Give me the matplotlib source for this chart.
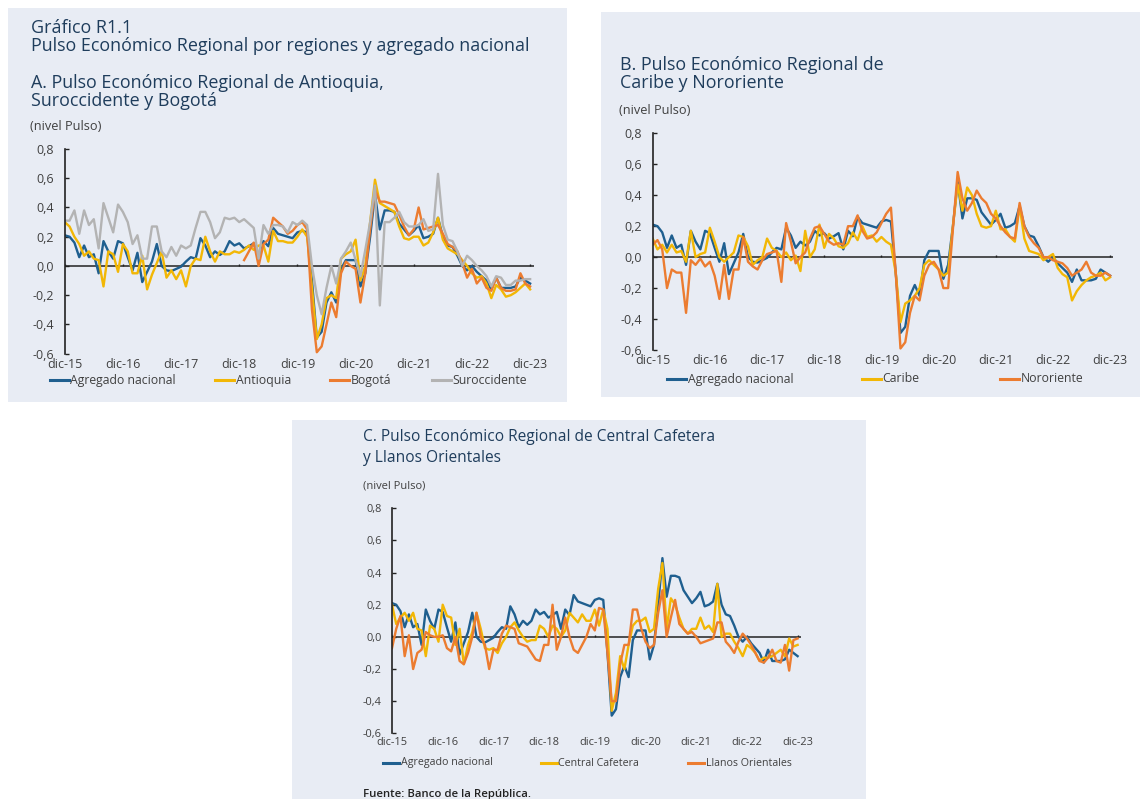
import numpy as np
import matplotlib.pyplot as plt
from matplotlib.patches import Rectangle
from matplotlib.lines import Line2D

plt.rcParams['font.family'] = ['Open Sans', 'DejaVu Sans']

W, H = 1142, 799

# --- datos (nivel Pulso, mensual dic-15 ... dic-23) ---
meses = np.arange(97)
ticks_x = np.arange(0, 97, 12)
etiquetas_x = ['dic-15', 'dic-16', 'dic-17', 'dic-18', 'dic-19',
               'dic-20', 'dic-21', 'dic-22', 'dic-23']
ticks_y = [-0.6, -0.4, -0.2, 0.0, 0.2, 0.4, 0.6, 0.8]

agregado = [0.21, 0.20, 0.16, 0.06, 0.14, 0.06, 0.08, -0.05, 0.17, 0.10,
            0.05, 0.17, 0.155, 0.06, -0.03, 0.09, -0.11, -0.04, 0.03, 0.15,
            0.00, -0.03, -0.035, -0.02, -0.005, 0.03, 0.06, 0.05, 0.19, 0.14,
            0.06, 0.10, 0.075, 0.10, 0.17, 0.14, 0.155, 0.12, 0.135, 0.155,
            0.05, 0.17, 0.135, 0.26, 0.22, 0.21, 0.20, 0.19,
            0.23, 0.24, 0.23, -0.10, -0.49, -0.45, -0.25, -0.18, -0.25, -0.02,
            0.04, 0.04, 0.04, -0.14, -0.05, 0.20, 0.49,
            0.25, 0.38, 0.38, 0.37, 0.29, 0.25, 0.21, 0.24, 0.28, 0.19,
            0.20, 0.22, 0.33, 0.20, 0.14, 0.13, 0.07, 0.00, -0.03, 0.00,
            -0.04, -0.07, -0.10, -0.16, -0.08, -0.15, -0.15, -0.15, -0.14, -0.08,
            -0.10, -0.12]

antioquia = [0.30, 0.27, 0.20, 0.15, 0.07, 0.10, 0.05, 0.04, -0.14, 0.10,
             0.08, -0.04, 0.15, 0.10, -0.05, -0.05, 0.07, -0.16, -0.06, 0.02,
             0.10, -0.08, -0.03, -0.09, -0.03, -0.14, 0.00, 0.05, 0.04, 0.20,
             0.10, 0.03, 0.10, 0.08, 0.08, 0.10, 0.09, 0.11, 0.14, 0.11,
             0.14, 0.14, 0.03, 0.24, 0.17, 0.17, 0.16, 0.16,
             0.20, 0.25, 0.20, -0.15, -0.50, -0.40, -0.22, -0.20, -0.22, 0.05,
             0.08, 0.10, 0.18, -0.10, 0.00, 0.30, 0.59, 0.43, 0.41, 0.39,
             0.37, 0.27, 0.19, 0.18, 0.20, 0.20, 0.14, 0.16, 0.23, 0.33,
             0.18, 0.12, 0.10, 0.08, 0.04, 0.00, -0.05, -0.08, -0.07, -0.12,
             -0.22, -0.13, -0.16, -0.21, -0.20, -0.18, -0.15, -0.12, -0.16]

bogota = [np.nan] * 37 + [
    0.04, 0.10, 0.16, 0.00, 0.15, 0.18, 0.33, 0.30, 0.27, 0.22,
    0.24, 0.28, 0.30, 0.25, -0.30, -0.59, -0.55, -0.40, -0.25, -0.35,
    -0.05, 0.03, 0.00, -0.02, -0.25, -0.05, 0.25, 0.52, 0.44, 0.44,
    0.43, 0.42, 0.35, 0.27, 0.21, 0.25, 0.40, 0.25, 0.26, 0.27,
    0.28, 0.22, 0.15, 0.13, 0.10, 0.02, -0.08, -0.02, -0.12, -0.08,
    -0.15, -0.17, -0.08, -0.15, -0.17, -0.17, -0.16, -0.05, -0.12, -0.14]

suroccidente = [0.31, 0.31, 0.38, 0.22, 0.38, 0.28, 0.32, 0.12, 0.43, 0.33,
                0.23, 0.42, 0.37, 0.30, 0.15, 0.21, 0.05, 0.05, 0.27, 0.27,
                0.10, 0.06, 0.13, 0.07, 0.14, 0.12, 0.14, 0.26, 0.37, 0.37,
                0.30, 0.19, 0.23, 0.33, 0.32, 0.33, 0.30, 0.32, 0.29, 0.26,
                0.05, 0.28, 0.22, 0.28, 0.28, 0.27, 0.23, 0.30,
                0.28, 0.31, 0.28, 0.00, -0.20, -0.33, -0.15, 0.00, -0.12, 0.05,
                0.10, 0.16, 0.04, -0.07, 0.11, 0.30, 0.55, -0.27, 0.30, 0.30,
                0.33, 0.37, 0.30, 0.27, 0.27, 0.28, 0.32, 0.24, 0.25, 0.63,
                0.28, 0.18, 0.17, 0.10, 0.00, 0.07, 0.04, 0.00, -0.03, -0.07,
                -0.14, -0.07, -0.08, -0.13, -0.13, -0.10, -0.10, -0.09, -0.09]

caribe = [0.12, 0.05, 0.08, 0.03, 0.08, 0.03, 0.04, -0.03, 0.17, 0.00,
          0.02, 0.03, 0.19, 0.10, 0.00, -0.03, 0.00, 0.03, 0.14, 0.13,
          0.07, -0.05, -0.02, 0.00, 0.12, 0.06, 0.04, 0.00, 0.03, -0.02,
          0.01, -0.09, 0.17, 0.00, 0.05, 0.21, 0.06, 0.15, 0.12, 0.07,
          0.06, 0.09, 0.16,
          0.11, 0.20, 0.13, 0.14, 0.10, 0.13, 0.10, 0.08, -0.10, -0.42,
          -0.30, -0.28, -0.25, -0.20, -0.05, -0.02, -0.05, -0.08, -0.12, -0.10,
          0.20, 0.47, 0.30, 0.45, 0.40, 0.28, 0.20, 0.19, 0.20, 0.30,
          0.18, 0.18, 0.13, 0.10, 0.33, 0.12, 0.04, 0.03, 0.02, -0.02,
          0.00, 0.02, -0.07, -0.11, -0.13, -0.28, -0.22, -0.18, -0.15, -0.13,
          -0.12, -0.10, -0.15, -0.13]

nororiente = [0.08, 0.11, 0.05, -0.20, -0.08, -0.10, -0.10, -0.36, -0.02, -0.05,
              -0.01, -0.06, -0.03, -0.12, -0.27, -0.05, -0.27, -0.08, -0.08, 0.13,
              -0.03, -0.06, -0.08, -0.02, 0.02, 0.03, 0.04, -0.16, 0.22, 0.10,
              -0.04, 0.00, 0.03, 0.12, 0.19, 0.20, 0.15, 0.10, 0.08, 0.09,
              0.08, 0.20, 0.20,
              0.27, 0.17, 0.12, 0.13, 0.16, 0.22, 0.28, 0.32, -0.10, -0.59,
              -0.55, -0.36, -0.25, -0.28, -0.12, -0.05, -0.03, -0.08, -0.20, -0.20,
              0.18, 0.55, 0.38, 0.30, 0.35, 0.43, 0.38, 0.35, 0.28, 0.25,
              0.20, 0.16, 0.13, 0.12, 0.35, 0.20, 0.13, 0.09, 0.06, 0.00,
              0.00, -0.02, -0.03, -0.04, -0.07, -0.12, -0.10, -0.08, -0.03, -0.10,
              -0.12, -0.12, -0.10, -0.12]

cafetera = [0.20, 0.08, 0.12, 0.15, 0.10, 0.15, 0.05, 0.04, -0.12, 0.07,
            0.05, -0.03, 0.20, 0.13, 0.12, -0.05, 0.05, -0.17, -0.05, 0.03,
            0.15, 0.05, -0.07, -0.08, -0.07, -0.10, -0.04, 0.00, 0.06, 0.09,
            0.04, 0.00, -0.03, -0.02, -0.02, 0.07, 0.05, 0.00, 0.07, 0.05,
            0.00, 0.04,
            0.15, 0.12, 0.09, 0.14, 0.10, 0.10, 0.17, 0.07, 0.17, 0.05,
            -0.46, -0.35, -0.12, -0.20, -0.05, 0.07, 0.10, 0.10, 0.12, 0.03,
            0.05, 0.30, 0.46, 0.05, 0.24, 0.20, 0.12, 0.05, 0.02, 0.05,
            0.05, 0.12, 0.05, 0.07, 0.03, 0.33, 0.00, 0.02, 0.02, -0.03,
            -0.07, -0.12, -0.05, -0.07, -0.10, -0.15, -0.13, -0.13, -0.12, -0.10,
            -0.08, -0.12, -0.01, -0.06, -0.05]

llanos = [-0.07, 0.05, 0.13, -0.12, 0.01, -0.20, -0.10, -0.08, 0.03, 0.01,
          0.00, 0.00, 0.01, -0.07, -0.09, 0.00, -0.15, -0.17, -0.10, 0.00,
          0.15, 0.00, -0.05, -0.20, -0.08, -0.08, 0.02, 0.07, 0.06, 0.05,
          -0.04, -0.05, -0.06, -0.10, -0.14, -0.15, -0.05, -0.05, 0.20, -0.08,
          0.00, 0.12,
          0.00, -0.08, -0.10, -0.05, 0.00, 0.08, 0.04, 0.18, 0.17, -0.10,
          -0.40, -0.40, -0.17, -0.05, -0.05, 0.17, 0.17, 0.05, -0.03, -0.07,
          -0.05, 0.15, 0.29, 0.00, 0.12, 0.23, 0.08, 0.05, 0.02, 0.03,
          0.00, -0.04, -0.03, -0.02, -0.01, 0.09, 0.09, -0.03, -0.06, -0.10,
          -0.03, 0.02, -0.01, -0.05, -0.10, -0.15, -0.16, -0.13, -0.08, -0.15,
          -0.16, -0.05, -0.21, -0.02, -0.01]

# colores
AZUL = '#1f5f8f'
AMARILLO = '#f2b705'
NARANJA = '#ec7c30'
GRIS = '#b3b3b3'
FONDO = '#e8ecf4'
TITULO = '#1f3d5c'
TEXTO = '#404040'

fig = plt.figure(figsize=(W / 100, H / 100), dpi=100)


def caja(x0, y0, x1, y1):
    # pixeles (origen arriba a la izquierda) -> fraccion de figura
    return [x0 / W, 1 - y1 / H, (x1 - x0) / W, (y1 - y0) / H]


def texto(x, y, s, **kw):
    fig.text(x / W, 1 - y / H, s, **kw)


def fondo(x0, y0, x1, y1):
    r = caja(x0, y0, x1, y1)
    fig.add_artist(Rectangle((r[0], r[1]), r[2], r[3], transform=fig.transFigure,
                             facecolor=FONDO, edgecolor='none', zorder=-5))


def item_leyenda(x, y, color, label, largo=19, fs=8.8):
    fig.add_artist(Line2D([x / W, (x + largo) / W], [1 - y / H, 1 - y / H],
                          color=color, lw=2.2, transform=fig.transFigure))
    texto(x + largo + 1.5, y, label, fontsize=fs, color=TEXTO, va='center')


def panel(rect, xmax, fs=9.0):
    ax = fig.add_axes(caja(*rect))
    ax.set_facecolor('none')
    ax.set_xlim(0, xmax)
    ax.set_ylim(-0.6, 0.8)
    for s in ['top', 'right', 'bottom']:
        ax.spines[s].set_visible(False)
    ax.spines['left'].set_linewidth(1.2)
    ax.spines['left'].set_color('#222222')
    ax.axhline(0, color='#222222', lw=1.1, zorder=1)
    ax.vlines(ticks_x, 0, 0.012, color='#222222', lw=1, zorder=1)
    ax.set_xticks(ticks_x)
    ax.set_xticklabels(etiquetas_x)
    ax.set_yticks(ticks_y)
    ax.set_yticklabels([f'{v:.1f}'.replace('.', ',') for v in ticks_y])
    ax.tick_params(axis='x', length=0, pad=3, labelsize=fs, labelcolor=TEXTO)
    ax.tick_params(axis='y', direction='in', length=3, width=1, pad=7.5,
                   labelsize=fs, labelcolor=TEXTO, color='#222222')
    return ax


lw = 1.7

# fondos de los tres paneles
fondo(8, 8, 567, 402)
fondo(601, 12, 1140, 397)
fondo(292, 420, 866, 799)

# A. Antioquia, Suroccidente y Bogota
ax = panel((64.7, 149, 534, 353.7), 96.8)
ax.plot(meses, agregado, color=AZUL, lw=lw)
ax.plot(meses, antioquia, color=AMARILLO, lw=lw)
ax.plot(meses, bogota, color=NARANJA, lw=lw)
ax.plot(meses, suroccidente, color=GRIS, lw=lw)

texto(31, 33, 'Gráfico R1.1', fontsize=12.9, color=TITULO)
texto(31, 51, 'Pulso Económico Regional por regiones y agregado nacional',
      fontsize=12.9, color=TITULO)
texto(31, 88, 'A. Pulso Económico Regional de Antioquia,', fontsize=12.9, color=TITULO)
texto(31, 106, 'Suroccidente y Bogotá', fontsize=12.9, color=TITULO)
texto(30, 127, '(nivel Pulso)', fontsize=9.2, color=TEXTO, va='center')

item_leyenda(50, 380, AZUL, 'Agregado nacional')
item_leyenda(215, 380, AMARILLO, 'Antioquia')
item_leyenda(330, 380, NARANJA, 'Bogotá')
item_leyenda(432, 380, GRIS, 'Suroccidente')

# B. Caribe y Nororiente
ax = panel((652.7, 133.3, 1113, 350), 96.6)
ax.plot(meses, agregado, color=AZUL, lw=lw)
ax.plot(meses, caribe, color=AMARILLO, lw=lw)
ax.plot(meses, nororiente, color=NARANJA, lw=lw)

texto(620, 70, 'B. Pulso Económico Regional de', fontsize=12.9, color=TITULO)
texto(620, 88, 'Caribe y Nororiente', fontsize=12.9, color=TITULO)
texto(619, 111, '(nivel Pulso)', fontsize=9.2, color=TEXTO, va='center')

item_leyenda(667, 379, AZUL, 'Agregado nacional')
item_leyenda(862, 379, AMARILLO, 'Caribe')
item_leyenda(1000, 379, NARANJA, 'Nororiente')

# C. Central Cafetera y Llanos Orientales
ax = panel((392, 508.3, 801, 733.3), 96.8, fs=7.9)
ax.plot(meses, agregado, color=AZUL, lw=lw)
ax.plot(meses, cafetera, color=AMARILLO, lw=lw)
ax.plot(meses, llanos, color=NARANJA, lw=lw)

texto(363, 441, 'C. Pulso Económico Regional de Central Cafetera',
      fontsize=11.2, color=TITULO)
texto(363, 462, 'y Llanos Orientales', fontsize=11.2, color=TITULO)
texto(363, 486, '(nivel Pulso)', fontsize=8.0, color=TEXTO, va='center')

item_leyenda(383, 763, AZUL, 'Agregado nacional', largo=16, fs=7.7)
item_leyenda(541, 763, AMARILLO, 'Central Cafetera', largo=16, fs=7.7)
item_leyenda(688, 763, NARANJA, 'Llanos Orientales', largo=16, fs=7.7)

texto(363, 797, 'Fuente: Banco de la República.', fontsize=8.2,
      color='#222222', fontweight='semibold')

fig.savefig('out.png', dpi=100)
